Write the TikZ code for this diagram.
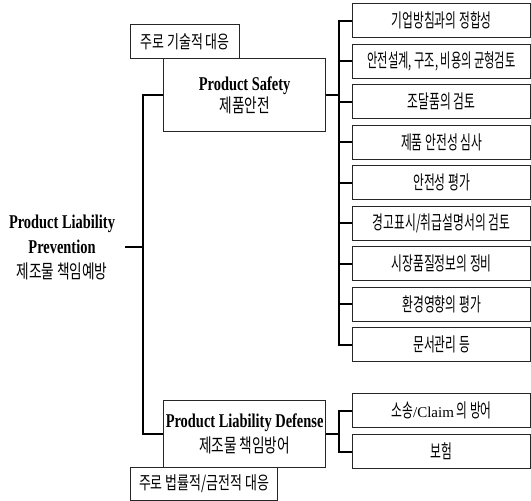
\documentclass[tikz,border=0pt]{standalone}
\usepackage{fontspec}
\setmainfont{Liberation Serif}
\newfontfamily\kr[FakeStretch=0.62]{Noto Sans CJK KR}
\newfontfamily\krn[FakeStretch=0.59]{Noto Sans CJK KR}
\newfontfamily\krb[FakeStretch=0.72]{Noto Sans CJK KR}
\newfontfamily\en[FakeStretch=0.74]{Liberation Serif}
\begin{document}
\begin{tikzpicture}[x=1pt,y=-1pt,
  box/.style={draw=black!85, line width=1.2pt, inner sep=0pt, anchor=north west, fill=white},
  krtxt/.style={font=\kr\fontsize{19}{21}\selectfont},
  lbltxt/.style={font=\krb\fontsize{18}{21}\selectfont},
  item/.style={box, krtxt, minimum width=178pt, minimum height=34pt},
  conn/.style={line width=2pt, line join=miter, draw=black},
  ]
\useasboundingbox (0,0) rectangle (531,501);
% right-hand items
\node[item] (i1) at (352,3) {기업방침과의 정합성};
\node[item, font=\krn\fontsize{19}{21}\selectfont] (i2) at (352,43.5) {안전설계, 구조, 비용의 균형검토};
\node[item] (i3) at (352,84) {조달품의 검토};
\node[item] (i4) at (352,124.5) {제품 안전성 심사};
\node[item] (i5) at (352,165) {안전성 평가};
\node[item] (i6) at (352,205.5) {경고표시/취급설명서의 검토};
\node[item] (i7) at (352,246) {시장품질정보의 정비};
\node[item] (i8) at (352,286.5) {환경영향의 평가};
\node[item] (i9) at (352,327) {문서관리 등};
\node[item] (d1) at (352,393) {소송{\rmfamily\fontsize{15}{18}\selectfont/Claim} 의 방어};
\node[item] (d2) at (352,434) {보험};
% labels and main boxes
\node[box, lbltxt, minimum width=109pt, minimum height=34pt] (tl) at (130,24) {주로 기술적 대응};
\node[box, minimum width=162pt, minimum height=73pt, align=center,
      font=\fontsize{19.5}{22}\selectfont] (sb) at (163,58)
  {{\en\bfseries Product Safety}\\{\krb\fontsize{19}{22}\selectfont 제품안전}};
\node[box, minimum width=162pt, minimum height=67pt, align=center,
      font=\fontsize{19.5}{24.5}\selectfont] (db) at (163,400)
  {{\en\bfseries Product Liability Defense}\\{\krb\fontsize{19}{24.5}\selectfont 제조물 책임방어}};
\node[box, lbltxt, minimum width=147pt, minimum height=33pt] (bl) at (130,467) {주로 법률적/금전적 대응};
\node[align=center, inner sep=0pt, font=\fontsize{19.5}{25}\selectfont] (prev) at (62,247)
  {{\en\bfseries Product Liability}\\{\en\bfseries Prevention}\\{\krb\fontsize{19}{25}\selectfont 제조물 책임예방}};
% connectors
\coordinate (mbus) at (143,95);
\coordinate (pstub) at (125,247);
\coordinate (sbus) at (339,0);
\draw[conn] (sb.west) -- (sb.west -| mbus) -- (db.west -| mbus) -- (db.west);
\draw[conn] (pstub) -- (pstub -| mbus);
\draw[conn] (i1.west) -- (i1.west -| sbus) -- (i9.west -| sbus) -- (i9.west);
\foreach \k in {2,...,8} {\draw[conn] (i\k.west) -- (i\k.west -| sbus);}
\draw[conn] (sb.east) -- (sb.east -| sbus);
\draw[conn] (d1.west) -- (d1.west -| sbus) -- (d2.west -| sbus) -- (d2.west);
\draw[conn] (db.east) -- (db.east -| sbus);
\end{tikzpicture}
\end{document}
